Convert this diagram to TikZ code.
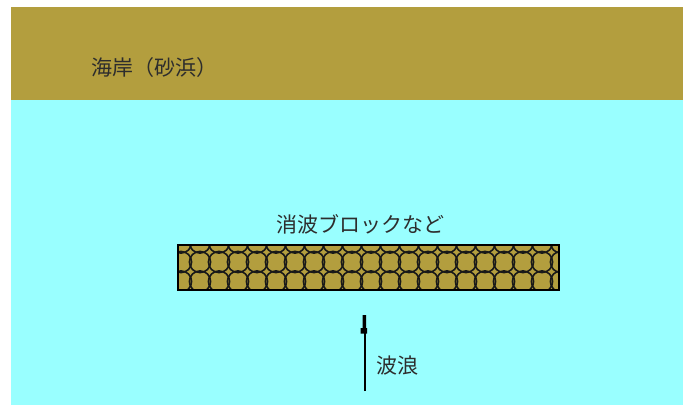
\documentclass[tikz,border=0pt]{standalone}
\usepackage{fontspec}
\newfontfamily\jp{Noto Sans CJK JP}
\usetikzlibrary{arrows.meta}
\definecolor{sand}{RGB}{179,158,62}
\definecolor{sea}{RGB}{153,255,255}
\definecolor{ink}{RGB}{45,45,45}
\tikzset{
  lbl/.style={font=\jp\fontsize{21}{22}\selectfont, text=ink, inner sep=0pt},
  pat/.style={draw=black!90, line width=1.6pt},
}
\begin{document}
\begin{tikzpicture}[x=1pt,y=-1pt]
\useasboundingbox (0,0) rectangle (689,405);
\fill[white] (0,0) rectangle (689,405);
% beach
\fill[sand] (11,7) rectangle (683,100);
% sea
\fill[sea] (11,100) rectangle (683,405);
\node[lbl, anchor=west] (beach) at (91,68) {海岸（砂浜）};
% block
\coordinate (bnw) at (178,245);
\coordinate (bse) at (559,290);
\fill[sand] (bnw) rectangle (bse);
\begin{scope}
  \clip (bnw) rectangle (bse);
  \foreach \i in {-1,...,20} {
    \foreach \j in {-1,0,1,2} {
      \draw[pat] ({200+19*\i},{262+19.5*\j}) circle (10.6);
    }
  }
\end{scope}
\draw[black, line width=1.5pt] (bnw) rectangle (bse);
\node[lbl] (blocklbl) at (360,224) {消波ブロックなど};
% wave arrow
\coordinate (wstart) at (364.5,391);
\coordinate (wend) at (364.5,315);
\draw[black, line width=2pt] (wstart) -- (wend);
\fill[black] (362.5,315) rectangle (366,329) (360.5,328) rectangle (367,333.5);
\node[lbl, anchor=west] (wave) at (376,366) {波浪};
\end{tikzpicture}
\end{document}
